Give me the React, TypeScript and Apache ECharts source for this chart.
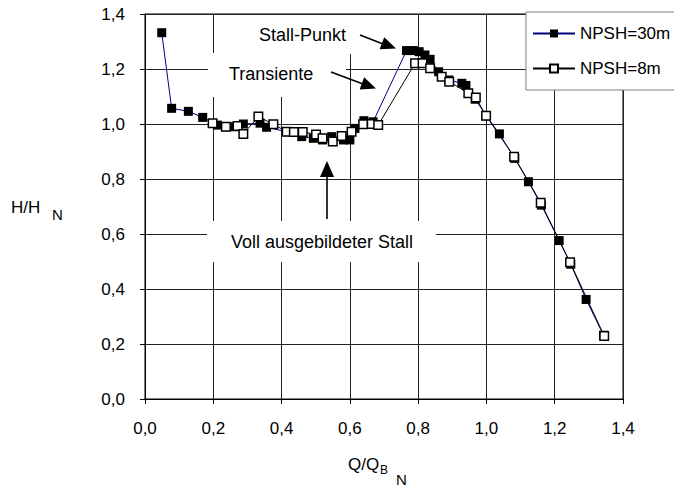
import React, { useEffect, useRef } from "react";
import * as echarts from "echarts";

// NPSH = 30 m (filled squares)
const q30 = [0.049, 0.078, 0.127, 0.169, 0.212, 0.237, 0.265, 0.288, 0.337, 0.356, 0.415, 0.459, 0.493, 0.52, 0.547, 0.581, 0.6, 0.615, 0.641, 0.668, 0.766, 0.786, 0.803, 0.82, 0.835, 0.86, 0.89, 0.928, 0.94, 0.967, 1.0, 1.038, 1.083, 1.123, 1.161, 1.213, 1.247, 1.292, 1.343];
const h30 = [1.332, 1.057, 1.046, 1.024, 0.996, 0.99, 0.99, 1.0, 1.003, 0.988, 0.972, 0.954, 0.948, 0.942, 0.954, 0.942, 0.942, 0.984, 1.012, 1.008, 1.267, 1.267, 1.263, 1.251, 1.235, 1.19, 1.16, 1.148, 1.14, 1.09, 1.03, 0.964, 0.875, 0.79, 0.705, 0.576, 0.49, 0.362, 0.232];

// NPSH = 8 m (open squares)
const q8 = [0.198, 0.237, 0.271, 0.288, 0.332, 0.376, 0.415, 0.436, 0.462, 0.501, 0.52, 0.55, 0.576, 0.605, 0.639, 0.664, 0.683, 0.791, 0.813, 0.835, 0.869, 0.891, 0.947, 0.969, 0.999, 1.081, 1.159, 1.245, 1.345];
const h8 = [1.003, 0.99, 0.993, 0.964, 1.027, 0.999, 0.972, 0.971, 0.971, 0.962, 0.948, 0.936, 0.956, 0.972, 0.999, 1.0, 0.996, 1.221, 1.221, 1.203, 1.172, 1.154, 1.112, 1.096, 1.03, 0.881, 0.714, 0.497, 0.229];

const seriesNames = ["NPSH=30m", "NPSH=8m"];
const annotationTexts = ["Stall-Punkt", "Transiente", "Voll ausgebildeter Stall"];
const axisMin = 0;
const axisMax = 1.4;
const axisStep = 0.2;

const FONT = "'Liberation Sans', Arial, Helvetica, sans-serif";

function zip(a: number[], b: number[]) {
  return a.map((x, i) => [x, b[i]]);
}

function arrowHead(tx: number, ty: number, fx: number, fy: number, len: number, half: number) {
  const dx = tx - fx;
  const dy = ty - fy;
  const d = Math.sqrt(dx * dx + dy * dy);
  const ux = dx / d;
  const uy = dy / d;
  const bx = tx - ux * len;
  const by = ty - uy * len;
  return [
    [tx, ty],
    [bx - uy * half, by + ux * half],
    [bx + uy * half, by - ux * half],
  ];
}

export default function App() {
  const ref = useRef<HTMLDivElement>(null);

  useEffect(() => {
    const chart = echarts.init(ref.current!, null, { renderer: "svg" });
    const fmt = (v: number) => v.toFixed(1).replace(".", ",");

    const axisCommon = {
      type: "value",
      min: axisMin,
      max: axisMax,
      interval: axisStep,
      axisLine: { show: true, onZero: false, lineStyle: { color: "#000", width: 1 } },
      axisTick: { show: true, inside: false, length: 5, lineStyle: { color: "#000", width: 1 } },
      splitLine: { show: true, lineStyle: { color: "#222", width: 1 } },
    };

    const txt = (text: string, x: number, y: number, size: number, align = "left") => ({
      type: "text",
      z: 6,
      style: {
        text,
        x,
        y,
        fill: "#000",
        fontSize: size,
        fontFamily: FONT,
        align,
        verticalAlign: "middle",
      },
    });
    const rect = (x: number, y: number, w: number, h: number, stroke?: string) => ({
      type: "rect",
      z: 5,
      shape: { x, y, width: w, height: h },
      style: { fill: "#fff", stroke: stroke || null, lineWidth: stroke ? 1 : 0 },
    });
    const line = (x1: number, y1: number, x2: number, y2: number) => ({
      type: "line",
      z: 6,
      shape: { x1, y1, x2, y2 },
      style: { stroke: "#000", lineWidth: 1.6 },
    });
    const head = (pts: number[][]) => ({
      type: "polygon",
      z: 6,
      shape: { points: pts },
      style: { fill: "#000" },
    });

    chart.setOption({
      animation: false,
      backgroundColor: "#fff",
      grid: {
        left: 145,
        top: 14,
        width: 478,
        height: 385,
        show: true,
        borderColor: "#000",
        borderWidth: 1,
        backgroundColor: "transparent",
      },
      xAxis: {
        ...axisCommon,
        axisLabel: { formatter: fmt, fontSize: 17, color: "#000", margin: 21, fontFamily: FONT },
      },
      yAxis: {
        ...axisCommon,
        axisLabel: { formatter: fmt, fontSize: 17, color: "#000", margin: 20, fontFamily: FONT },
      },
      legend: {
        show: true,
        orient: "vertical",
        left: 527,
        top: 20,
        itemWidth: 42,
        itemHeight: 10,
        itemGap: 18,
        z: 10,
        data: seriesNames,
        textStyle: { fontSize: 17, color: "#000", fontFamily: FONT },
      },
      graphic: [
        rect(526, 12, 170, 78, "#808080"),
        rect(238, 15, 122, 39),
        rect(208, 53, 138, 44),
        rect(207, 221, 229, 41),
        txt(annotationTexts[0], 259, 35, 18),
        txt(annotationTexts[1], 229, 74, 18),
        txt(annotationTexts[2], 322, 242, 18, "center"),
        line(360, 35, 383, 44),
        head(arrowHead(396, 48.5, 360, 35, 15, 6.5)),
        line(331, 72, 363, 84),
        head(arrowHead(376, 88.5, 331, 72, 15, 6.5)),
        line(327, 219, 327, 176),
        head(arrowHead(327, 161, 327, 219, 16, 7)),
        txt("H/H", 11, 207, 17),
        txt("N", 52, 214, 15),
        txt("Q/Q", 348, 464, 17),
        txt("B", 380, 470, 12),
        txt("N", 396, 479, 15),
      ],
      series: [
        {
          name: seriesNames[0],
          type: "line",
          data: zip(q30, h30),
          symbol: "rect",
          symbolSize: 9,
          z: 2,
          itemStyle: { color: "#000" },
          lineStyle: { color: "#000080", width: 1 },
        },
        {
          name: seriesNames[1],
          type: "line",
          data: zip(q8, h8),
          symbol: "rect",
          symbolSize: 8.5,
          z: 3,
          itemStyle: { color: "#fff", borderColor: "#000", borderWidth: 1.5 },
          lineStyle: { color: "#000", width: 1 },
        },
      ],
    });

    return () => chart.dispose();
  }, []);

  return (
    <div
      ref={ref}
      style={{ position: "fixed", left: 0, top: 0, width: 674, height: 488, background: "#fff" }}
    />
  );
}
